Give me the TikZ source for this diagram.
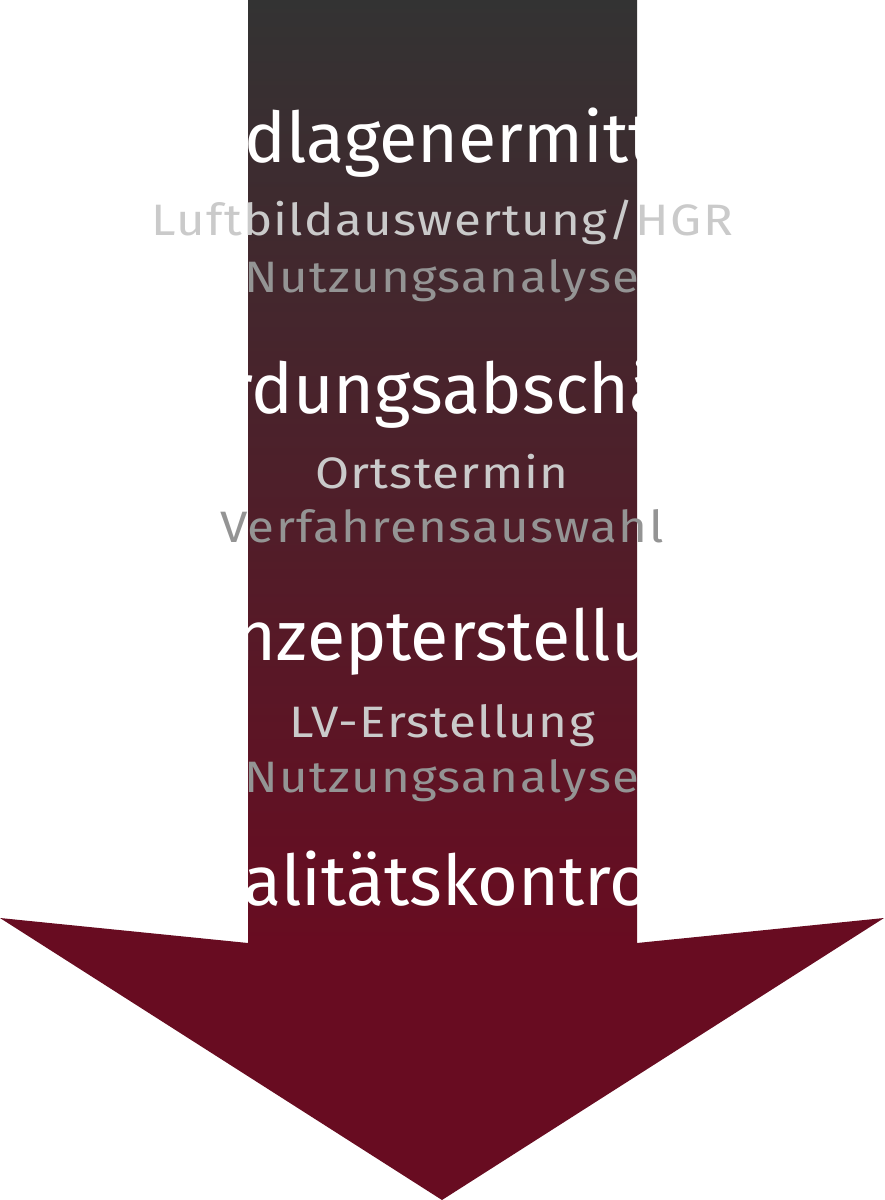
\documentclass[tikz,border=0pt]{standalone}
\usepackage{fontspec}
\setmainfont{Fira Sans}
\newfontfamily\subfont[FakeStretch=1.12,LetterSpace=3]{Fira Sans}
\definecolor{shafttop}{HTML}{333333}
\definecolor{shaftbot}{HTML}{680C21}
\definecolor{sublight}{HTML}{CACACA}
\definecolor{subdark}{HTML}{949494}
\tikzset{
  head/.style={anchor=base,inner sep=0pt,text=white,font=\fontsize{70}{70}\selectfont},
  sub/.style={anchor=base,inner sep=0pt,font=\subfont\fontsize{44}{44}\selectfont},
}
\begin{document}
\begin{tikzpicture}[x=1pt,y=-1pt]
      \useasboundingbox (0,0) rectangle (884,1200);
      \shade[top color=shafttop,bottom color=shaftbot] (248,0) rectangle (637,944);
      \fill[shaftbot] (248,943) -- (0,918) -- (442,1200) -- (884,918) -- (637,943) -- cycle;
      \begin{scope}
        \clip (248,0) rectangle (637,944);
        \draw
          (442,162) node[head] (h1){Grundlagenermittlung}
          (442,413) node[head] (h2){Gefährdungsabschätzung}
          (442,660) node[head] (h3){Konzepterstellung}
          (442,905) node[head] (h4){Qualitätskontrolle};
      \end{scope}
      \draw
        (442,235) node[sub,text=sublight] (s1){Luftbildauswertung/HGR}
        (442,292) node[sub,text=subdark] (s2){Nutzungsanalyse}
        (442,488) node[sub,text=sublight] (s3){Ortstermin}
        (442,542) node[sub,text=subdark] (s4){Verfahrensauswahl}
        (442,737) node[sub,text=sublight] (s5){LV-Erstellung}
        (442,792) node[sub,text=subdark] (s6){Nutzungsanalyse};
    \end{tikzpicture}
\end{document}
